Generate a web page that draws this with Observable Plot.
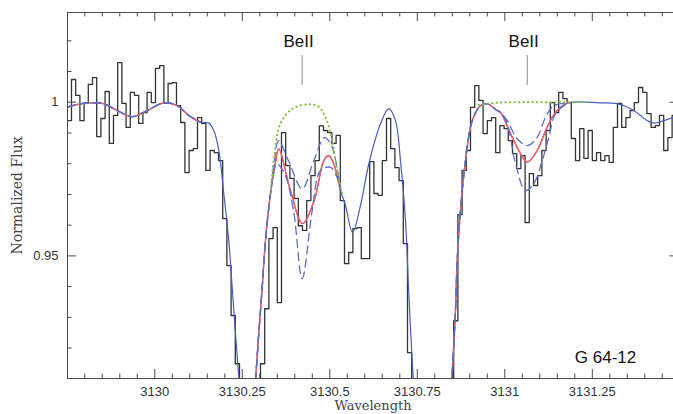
<!DOCTYPE html>
<html><head><meta charset="utf-8">
<script src="https://cdn.jsdelivr.net/npm/d3@7"></script>
<script src="https://cdn.jsdelivr.net/npm/@observablehq/plot@0.6"></script>
<style>html,body{margin:0;padding:0;background:#fff;overflow:hidden}#chart svg{display:block}</style>
</head><body><div id="chart"></div>
<script>
// observed spectrum: bin start wavelengths (last entry closes the final bin) and flux
const histWl = [3129.750,3129.762,3129.774,3129.786,3129.798,3129.810,3129.822,3129.834,3129.846,3129.858,
3129.870,3129.882,3129.894,3129.906,3129.918,3129.930,3129.942,3129.954,3129.966,3129.978,
3129.990,3130.002,3130.014,3130.026,3130.038,3130.050,3130.062,3130.074,3130.086,3130.098,
3130.110,3130.122,3130.134,3130.146,3130.158,3130.170,3130.182,3130.194,3130.206,3130.218,
3130.230,3130.242,3130.254,3130.266,3130.278,3130.290,3130.302,3130.314,3130.326,3130.338,
3130.350,3130.362,3130.374,3130.386,3130.398,3130.410,3130.422,3130.434,3130.446,3130.458,
3130.470,3130.482,3130.494,3130.506,3130.518,3130.530,3130.542,3130.554,3130.566,3130.578,
3130.590,3130.602,3130.614,3130.626,3130.638,3130.650,3130.662,3130.674,3130.686,3130.698,
3130.710,3130.722,3130.734,3130.746,3130.758,3130.770,3130.782,3130.794,3130.806,3130.818,
3130.830,3130.842,3130.854,3130.866,3130.878,3130.890,3130.902,3130.914,3130.926,3130.938,
3130.950,3130.962,3130.974,3130.986,3130.998,3131.010,3131.022,3131.034,3131.046,3131.058,
3131.070,3131.082,3131.094,3131.106,3131.118,3131.130,3131.142,3131.154,3131.166,3131.178,
3131.190,3131.202,3131.214,3131.226,3131.238,3131.250,3131.262,3131.274,3131.286,3131.298,
3131.310,3131.322,3131.334,3131.346,3131.358,3131.370,3131.382,3131.394,3131.406,3131.418,
3131.430,3131.442,3131.454,3131.466,3131.478,3131.490];
const histFlux = [0.9940,1.0074,1.0022,0.9940,0.9999,1.0058,1.0080,0.9888,0.9947,1.0035,
0.9866,0.9957,1.0129,0.9996,0.9918,1.0032,1.0022,0.9931,0.9966,1.0032,
0.9999,1.0110,1.0119,0.9996,1.0061,1.0064,0.9989,0.9934,0.9771,0.9843,
0.9849,0.9950,0.9931,0.9778,0.9843,0.9836,0.9810,0.9621,0.9468,0.9306,
0.9149,0.900,0.890,0.885,0.890,0.900,0.9149,0.9328,0.9556,0.9592,
0.9348,0.9901,0.9794,0.9752,0.9687,0.9598,0.9583,0.9680,0.9761,0.9810,
0.9923,0.9908,0.9901,0.9866,0.9892,0.9680,0.9475,0.9511,0.9589,0.9592,
0.9491,0.9491,0.9807,0.9703,0.9697,0.9810,0.9947,0.9849,0.9787,0.9745,
0.9540,0.9185,0.895,0.880,0.870,0.865,0.860,0.860,0.865,0.875,
0.885,0.900,0.9289,0.9634,0.9778,0.9843,0.9983,1.0054,1.0006,0.9898,
0.9940,0.9950,0.9836,0.9924,0.9914,0.9875,0.9833,0.9784,0.9826,0.9608,
0.9768,0.9729,0.9761,0.9843,0.9908,0.9999,0.9966,1.0032,1.0012,0.9999,
0.9882,0.9810,0.9914,0.9817,0.9908,0.9810,0.9836,0.9810,0.9826,0.9804,
0.9918,0.9996,0.9918,0.9950,0.9973,0.9999,1.0048,1.0032,0.9963,0.9918,
0.9924,0.9957,0.9843,0.9885,0.9957];

// synthetic spectrum (best fit)
const fitWl = [3129.7506,3129.7877,3129.8257,3129.8543,3129.8926,3129.9354,3129.9783,3130.0257,3130.0640,3130.0971,
3130.1306,3130.1543,3130.1686,3130.1829,3130.1971,3130.2114,3130.2211,3130.2306,3130.2400,3130.2650,
3130.2877,3130.2971,3130.3069,3130.3163,3130.3306,3130.3420,3130.3543,3130.3877,3130.4220,3130.4554,
3130.4829,3130.4971,3130.5114,3130.5306,3130.5449,3130.5649,3130.5877,3130.6114,3130.6449,3130.6686,
3130.6877,3130.7020,3130.7163,3130.7257,3130.7354,3130.7406,3130.7950,3130.8497,3130.8591,3130.8640,
3130.8734,3130.8877,3130.9069,3130.9306,3130.9497,3130.9783,3130.9877,3131.0163,3131.0449,3131.0640,
3131.0926,3131.1211,3131.1449,3131.1783,3131.2734,3131.3211,3131.3686,3131.4069,3131.4257,3131.4543,3131.4820];
const fitFlux = [0.9984,0.9995,0.9998,0.9995,0.9973,0.9953,0.9973,0.9998,0.9989,0.9957,
0.9935,0.9932,0.9908,0.9843,0.9703,0.9550,0.9398,0.9247,0.9105,0.8750,
0.9094,0.9247,0.9398,0.9550,0.9703,0.9784,0.9848,0.9712,0.9605,0.9680,
0.9810,0.9826,0.9799,0.9713,0.9664,0.9576,0.9664,0.9799,0.9930,0.9979,
0.9940,0.9810,0.9615,0.9377,0.9159,0.9062,0.8000,0.9116,0.9322,0.9485,
0.9647,0.9810,0.9940,0.9989,0.9995,0.9973,0.9967,0.9898,0.9833,0.9805,
0.9843,0.9919,0.9967,0.9997,0.9998,0.9995,0.9973,0.9940,0.9932,0.9940,0.9951];

// Be abundance +/- variations near the two Be II lines
const upper1Wl = [3130.3420,3130.3534,3130.3820,3130.4211,3130.4543,3130.4849,3130.5049,3130.5220];
const upper1Flux = [0.9810,0.9875,0.9810,0.9719,0.9810,0.9885,0.9859,0.9778];
const lower1Wl = [3130.3477,3130.3706,3130.3963,3130.4211,3130.4497,3130.4734,3130.5020,3130.5220];
const lower1Flux = [0.9800,0.9768,0.9647,0.9426,0.9647,0.9778,0.9788,0.9752];
const upper2Wl = [3131.0069,3131.0354,3131.0640,3131.0926,3131.1163,3131.1400];
const upper2Flux = [0.9940,0.9881,0.9859,0.9886,0.9951,0.9989];
const lower2Wl = [3131.0069,3131.0306,3131.0591,3131.0829,3131.1069,3131.1257,3131.1449];
const lower2Flux = [0.9930,0.9800,0.9713,0.9735,0.9810,0.9886,0.9963];
// no-Be synthesis
const noBe1Wl = [3130.3306,3130.3420,3130.3591,3130.3934,3130.4354,3130.4677,3130.4877,3130.5069,3130.5211,3130.5354];
const noBe1Flux = [0.9703,0.9830,0.9931,0.9979,0.9993,0.9986,0.9951,0.9875,0.9778,0.9703];
const noBe2Wl = [3130.9249,3130.9877,3131.1020,3131.2391];
const noBe2Flux = [0.9992,0.9999,1.0000,1.0000];

const beLines = [3130.421, 3131.064];
const xMajorTicks = [3130, 3130.25, 3130.5, 3130.75, 3131, 3131.25];
const xMinorTicks = [3129.8,3129.85,3129.9,3129.95,3130.05,3130.1,3130.15,3130.2,3130.3,3130.35,3130.4,3130.45,
  3130.55,3130.6,3130.65,3130.7,3130.8,3130.85,3130.9,3130.95,3131.05,3131.1,3131.15,3131.2,3131.3,3131.35,3131.4,3131.45];
const yMajorTicks = [0.95, 1];
const yMinorTicks = [0.92,0.93,0.94,0.96,0.97,0.98,0.99,1.01,1.02];

// fit windows and ranges replaced by the Be variations
const windows = [[3129.75, 3130.135], [3130.28, 3130.535], [3130.845, 3131.18]];
const replaceRanges = [null, [3130.335, 3130.528], [3131.0, 3131.175]];

const W = 673, H = 414, mt = 12, mb = 36, ml = 67, mr = 0;
const fw = W - ml - mr, fh = H - mt - mb;
const xDom = [3129.7506, 3131.482], yDom = [0.9101, 1.0292];

const pts = (wl, f) => wl.map((w, i) => ({wl: w, f: f[i]}));
const hist = histWl.map((w, i) => ({wl: w, f: histFlux[Math.min(i, histFlux.length - 1)]}));
const fit = pts(fitWl, fitFlux);
const red = windows.flatMap((w, k) => fit.filter(p => p.wl >= w[0] && p.wl <= w[1]).map(p => ({...p, seg: k})));
const variants = [[null, pts(upper1Wl, upper1Flux), pts(upper2Wl, upper2Flux)],
                  [null, pts(lower1Wl, lower1Flux), pts(lower2Wl, lower2Flux)]];
const dashed = variants.flatMap((v, j) => windows.flatMap((w, k) => {
  const r = replaceRanges[k];
  let base = fit.filter(p => p.wl >= w[0] && p.wl <= w[1]);
  if (r) base = base.filter(p => p.wl < r[0] || p.wl > r[1]).concat(v[k]);
  return base.sort((a, b) => a.wl - b.wl).map(p => ({...p, seg: j * 10 + k}));
}));
const green = pts(noBe1Wl, noBe1Flux).map(p => ({...p, seg: 0})).concat(pts(noBe2Wl, noBe2Flux).map(p => ({...p, seg: 1})));

const frameColor = "#4a4a4a";
const sans = "Liberation Sans, Arial, sans-serif";
const chart = Plot.plot({
  width: W, height: H, marginTop: mt, marginBottom: mb, marginLeft: ml, marginRight: mr,
  x: {domain: xDom}, y: {domain: yDom},
  style: {fontFamily: sans, fontSize: "13px", color: "#333", background: "#fff"},
  marks: [
    Plot.axisX({ticks: xMajorTicks, tickSize: 0, tickPadding: 8, tickFormat: d => String(d), label: null, fontSize: 13}),
    Plot.axisY({ticks: yMajorTicks, tickSize: 0, tickPadding: 9, tickFormat: d => String(d), label: null, fontSize: 13}),
    Plot.line(hist, {x: "wl", y: "f", curve: "step-after", stroke: "#333", strokeWidth: 1.3, clip: true}),
    Plot.line(fit, {x: "wl", y: "f", curve: "catmull-rom", stroke: "#4a5cc0", strokeWidth: 1.2, clip: true}),
    Plot.line(red, {x: "wl", y: "f", z: "seg", curve: "catmull-rom", stroke: "#ff5a5a", strokeWidth: 1.4, clip: true}),
    Plot.line(dashed, {x: "wl", y: "f", z: "seg", curve: "catmull-rom", stroke: "#5a6ecb", strokeWidth: 1.3, strokeDasharray: "8,5", clip: true}),
    Plot.line(green, {x: "wl", y: "f", z: "seg", curve: "catmull-rom", stroke: "#7dc242", strokeWidth: 2, strokeDasharray: "0.5,4", strokeLinecap: "round", clip: true}),
    Plot.ruleX([xDom[0]], {stroke: frameColor}),
    Plot.ruleY([yDom[0]], {stroke: frameColor}),
    Plot.ruleY([yDom[1]], {stroke: frameColor}),
    Plot.tickX(xMajorTicks, {x: d => d, insetTop: fh - 9, stroke: frameColor}),
    Plot.tickX(xMinorTicks, {x: d => d, insetTop: fh - 4.5, stroke: frameColor}),
    Plot.tickX(xMajorTicks, {x: d => d, insetBottom: fh - 9, stroke: frameColor}),
    Plot.tickX(xMinorTicks, {x: d => d, insetBottom: fh - 4.5, stroke: frameColor}),
    Plot.tickY(yMajorTicks, {y: d => d, insetRight: fw - 9, stroke: frameColor}),
    Plot.tickY(yMinorTicks, {y: d => d, insetRight: fw - 4.5, stroke: frameColor}),
    Plot.tickY(yMajorTicks, {y: d => d, insetLeft: fw - 3.5, stroke: frameColor}),
    Plot.tickX(beLines, {x: d => d, insetTop: 43, insetBottom: fh - 73, stroke: "#8a8a8a"}),
    Plot.text(beLines, {x: d => d, text: () => "BeII", frameAnchor: "top", textAnchor: "middle", lineAnchor: "middle", dy: 29.3, dx: -3.5, fontSize: 17, fill: "#111", fontFamily: sans}),
    Plot.text(["G 64-12"], {text: d => d, frameAnchor: "bottom-right", textAnchor: "middle", lineAnchor: "middle", dx: -68, dy: -21.4, fontSize: 17, fill: "#111", fontFamily: sans}),
    Plot.text(["Normalized Flux"], {text: d => d, frameAnchor: "left", textAnchor: "middle", lineAnchor: "middle", dx: -50, rotate: -90, fontSize: 14, fill: "#444", fontFamily: "DejaVu Serif, serif"}),
    Plot.text(["Wavelength"], {text: d => d, frameAnchor: "bottom", textAnchor: "middle", lineAnchor: "middle", dx: 2.5, dy: 27, fontSize: 13, fill: "#444", fontFamily: "DejaVu Serif, serif"})
  ]
});
document.getElementById("chart").append(chart);
</script>
</body></html>
